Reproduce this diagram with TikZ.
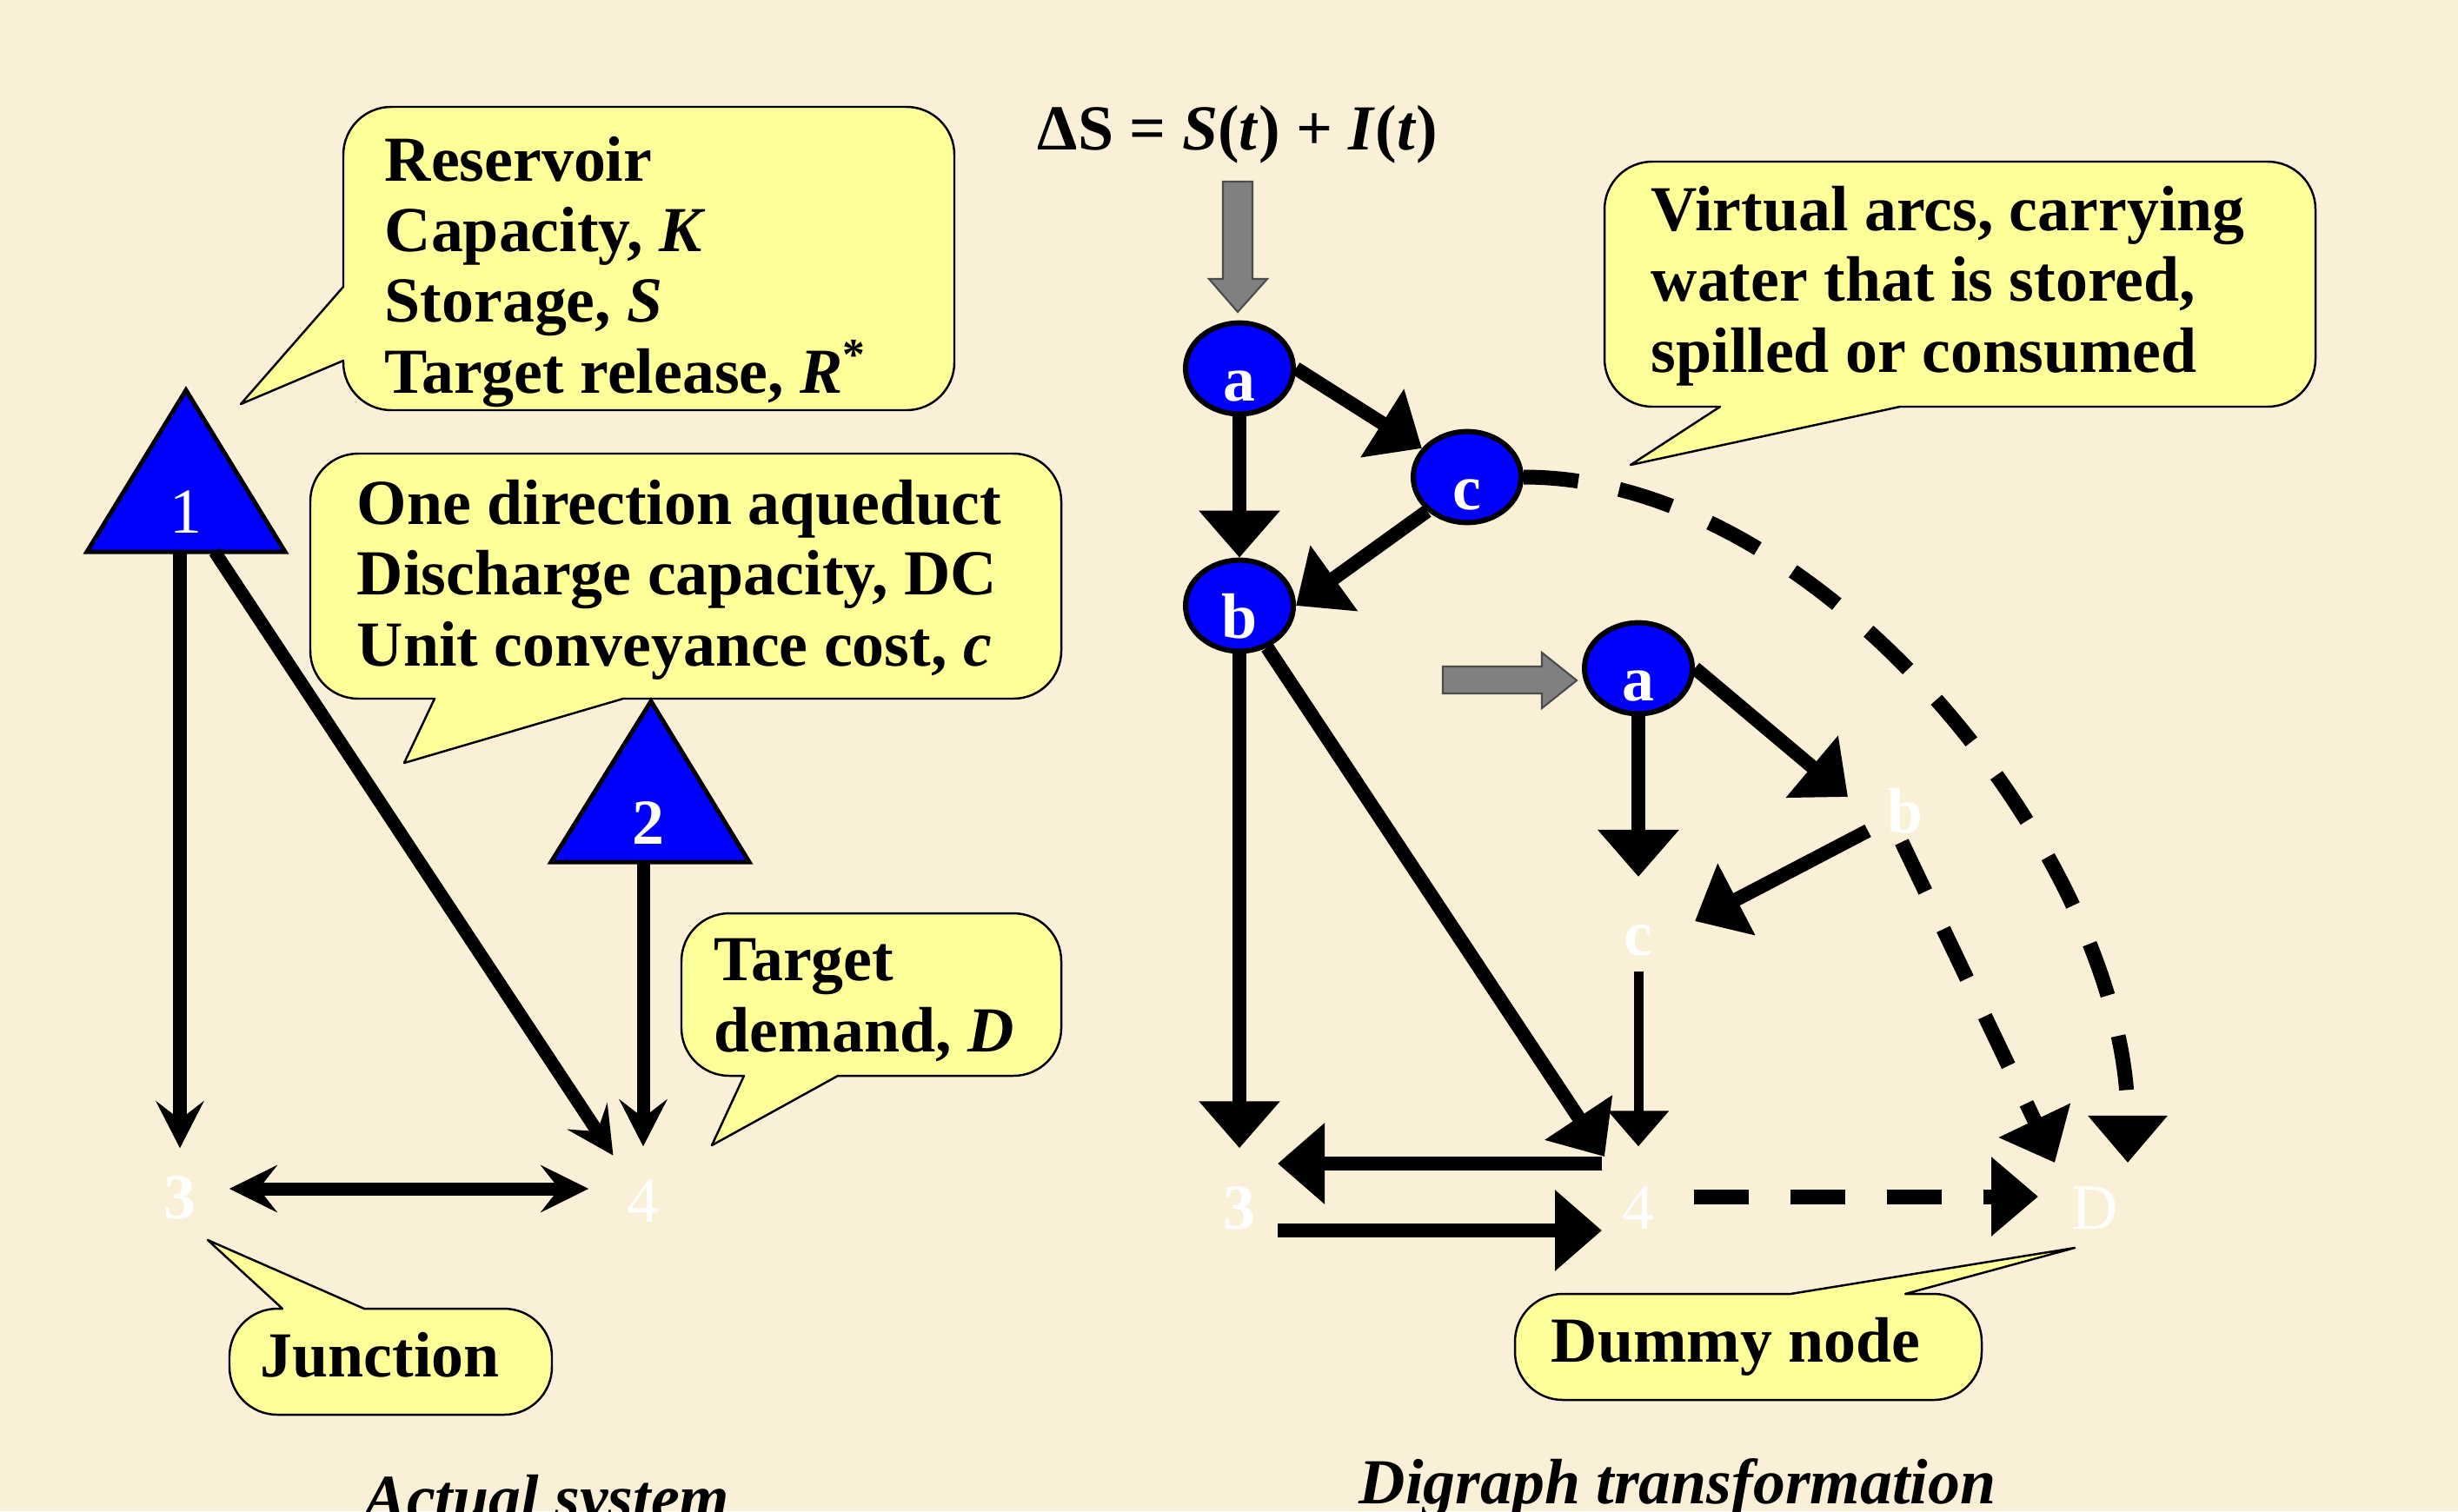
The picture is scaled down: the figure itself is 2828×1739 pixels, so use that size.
\documentclass[tikz,border=0pt]{standalone}
\usepackage{fontspec}
\setmainfont{Liberation Serif}
\usetikzlibrary{arrows.meta,shapes.geometric}
\definecolor{bgcol}{RGB}{250,240,216}
\definecolor{callfill}{RGB}{255,255,153}
\definecolor{nodeblue}{RGB}{0,0,255}
\definecolor{arrgray}{RGB}{128,128,128}
\tikzset{
  big/.style={font=\fontsize{21}{23.05}\selectfont\bfseries},
  bigreg/.style={font=\fontsize{21}{23.05}\selectfont\mdseries},
  ctext/.style={big, anchor=base west, align=left, inner sep=0pt},
  capt/.style={font=\fontsize{21}{23.05}\selectfont\bfseries\itshape, anchor=base, inner sep=0pt},
  callout/.style={fill=callfill, draw=black, line width=0.7pt, line join=round},
  ellnode/.style={ellipse, draw=black, line width=0.06cm, fill=nodeblue, minimum width=1.24cm, minimum height=1.04cm, inner sep=0pt, text=white, big, text height=0.74cm, text depth=0pt},
  lbl/.style={circle, inner sep=0pt, text=white, big},
  tri/.style={fill=nodeblue, draw=black, line width=0.05cm, line join=miter},
  grayarrow/.style={fill=arrgray, draw=black!70, line width=0.6pt},
  larrow/.style={line width=0.15cm, -{Stealth[length=0.54cm,width=0.55cm,inset=0.21cm]}},
  ldarrow/.style={line width=0.15cm, {Stealth[length=0.55cm,width=0.54cm,inset=0.21cm]}-{Stealth[length=0.55cm,width=0.54cm,inset=0.21cm]}},
  rarrow/.style={line width=0.16cm, -{Triangle[length=0.54cm,width=0.90cm]}},
  tharrow/.style={line width=0.11cm, -{Triangle[length=0.41cm,width=0.68cm]}},
  darrow/.style={line width=0.17cm, dash pattern=on 0.63cm off 0.48cm, -{Triangle[length=0.54cm,width=0.88cm]}}
}
\begin{document}
\begin{tikzpicture}[x=0.01cm, y=-0.01cm]
\useasboundingbox (0,0) rectangle (2828,1739);
\fill[bgcol] (0,0) rectangle (2828,1739);

% ---------- callouts (text nodes anchored at the baseline of their last line) ----------
\draw[callout] (277,465) -- (395,330) [rounded corners=0.55cm] -- (395,123) -- (1098,123) -- (1098,472) -- (395,472) [sharp corners] -- (395,415) -- cycle;
\node[ctext] (tRes) at (442,452) {Reservoir\\Capacity, \textit{K}\\Storage, \textit{S}\\Target release, \textit{R}\textsuperscript{*}};

\draw[callout] (465,878) -- (717,804) [rounded corners=0.55cm] -- (1221,804) -- (1221,522) -- (357,522) -- (357,804) [sharp corners] -- (500,804) -- cycle;
\node[ctext] (tAq) at (410,766) {One direction aqueduct\\Discharge capacity, DC\\Unit conveyance cost, \textit{c}};

\draw[callout] (819,1318) -- (964,1238) [rounded corners=0.55cm] -- (1221,1238) -- (1221,1051) -- (784,1051) -- (784,1238) [sharp corners] -- (856,1238) -- cycle;
\node[ctext] (tDem) at (821,1210) {Target\\demand, \textit{D}};

\draw[callout] (239,1427) -- (419,1506) [rounded corners=0.55cm] -- (635,1506) -- (635,1628) -- (264,1628) -- (264,1506) [sharp corners] -- (325,1506) -- cycle;
\node[ctext] (tJun) at (299,1584) {Junction};

\draw[callout] (1876,535) -- (2186,468) [rounded corners=0.55cm] -- (2664,468) -- (2664,186) -- (1846,186) -- (1846,468) [sharp corners] -- (1979,468) -- cycle;
\node[ctext] (tVir) at (1899,428) {Virtual arcs, carrying\\water that is stored,\\spilled or consumed};

\draw[callout] (2387,1436) -- (2060,1489) [rounded corners=0.55cm] -- (1743,1489) -- (1743,1611) -- (2280,1611) -- (2280,1489) [sharp corners] -- (2192,1489) -- cycle;
\node[ctext] (tDum) at (1784,1567) {Dummy node};

% ---------- actual system ----------
\draw[tri] (214,449) -- (328,635) -- (100,635) -- cycle;
\draw[tri] (749,807) -- (862,992) -- (634,992) -- cycle;
\coordinate (t1b) at (214,635);
\coordinate (t2b) at (748,992);
\node[lbl, bigreg] (n1) at (214,589) {1};
\node[lbl] (n2) at (746,947) {2};
\node[lbl, minimum size=1.12cm] (n3) at (207,1378) {3};
\node[lbl, bigreg, minimum size=1.24cm] (n4) at (740,1382) {4};

\draw[larrow] (t1b -| n3) -- (n3);
\draw[larrow] ([shift={(33,0)}]t1b) -- (n4);
\draw[larrow] (t2b -| n4) -- (n4);
\draw[ldarrow] ([shift={(0,-10)}]n3.east) -- ([shift={(0,-14)}]n4.west);

\node[capt] (capL) at (629,1748) {Actual system};

% ---------- digraph transformation ----------
\node[anchor=base west, inner sep=0pt, big] (F) at (1193,172) {ΔS = \textit{S}(\textit{t}) + \textit{I}(\textit{t})};
\draw[grayarrow] (1407,209) -- (1441,209) -- (1441,321) -- (1458,321) -- (1424,359) -- (1391,321) -- (1407,321) -- cycle;
\draw[grayarrow] (1660,767) -- (1774,767) -- (1774,751) -- (1814,783) -- (1774,815) -- (1774,798) -- (1660,798) -- cycle;

\node[ellnode] (A) at (1426,424) {a};
\node[ellnode] (C) at (1688,549) {c};
\node[ellnode] (B) at (1426,697) {b};
\node[ellnode] (A2) at (1885,769) {a};
\node[lbl] (b2) at (2192,933) {b};
\node[lbl] (c2) at (1885,1082) {c};
\node[lbl, minimum size=1.36cm] (r3) at (1426,1390) {3};
\node[lbl, bigreg, minimum size=1.40cm] (r4) at (1885,1390) {4};
\node[lbl, bigreg] (rD) at (2410,1390) {D};

\draw[rarrow] (A) -- (B);
\draw[rarrow] (A.east) -- (C);
\draw[rarrow] (C.south west) -- (B.east);
\draw[rarrow] (B) -- (r3);
\draw[rarrow] (B) -- (r4);
\draw[rarrow] ([shift={(44,26)}]r3.center) -- ([shift={(-42,26)}]r4.center);
\draw[rarrow] ([shift={(-42,-51)}]r4.center) -- ([shift={(44,-51)}]r3.center);
\draw[rarrow] (A2) -- ([shift={(0,-73)}]c2.center);
\draw[rarrow] (A2.east) -- ([shift={(-66,-16)}]b2.center);
\draw[rarrow] ([shift={(-43,23)}]b2.center) -- ([shift={(65,-22)}]c2.center);
\draw[tharrow] ([shift={(0,36)}]c2.center) -- (r4);
\draw[darrow] ([shift={(64,-13)}]r4.center) -- ([shift={(-65,-13)}]rD.center);
\draw[darrow] ([shift={(-4,36)}]b2.center) -- ([shift={(-46,-52)}]rD.center);
\draw[darrow] (C.east) .. controls +(350,0) and +(0,-340) .. ([shift={(38,-52)}]rD.center);

\node[capt] (capR) at (1930,1730) {Digraph transformation};
\end{tikzpicture}
\end{document}
